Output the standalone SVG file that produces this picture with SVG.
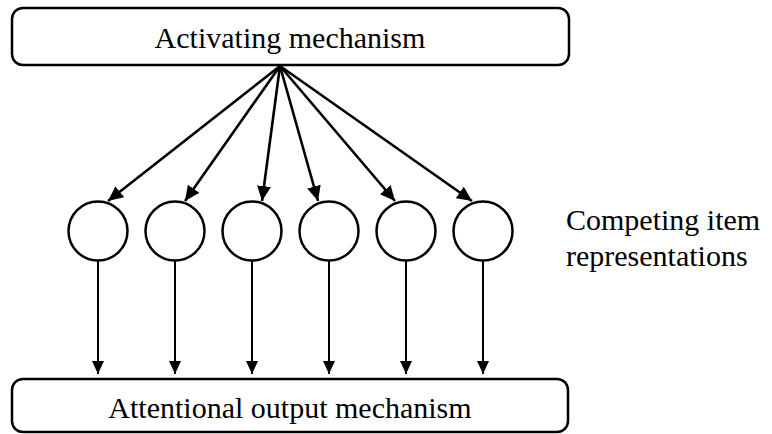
<svg xmlns="http://www.w3.org/2000/svg" width="772" height="434" viewBox="0 0 772 434">
<style>
.box{fill:#fff;stroke:#000;stroke-width:2.5}
.node{fill:#fff;stroke:#000;stroke-width:2.5}
.lbl{font-size:30px;fill:#000}
.edge{stroke:#000;stroke-width:2.6;fill:none}
.vedge{stroke:#000;stroke-width:2;fill:none}
</style>
<defs>
<marker id="ah" markerUnits="userSpaceOnUse" markerWidth="16" markerHeight="14" refX="15" refY="7" orient="auto">
<path d="M0,0 L15,7 L0,14 Z" fill="#000"/>
</marker>
<marker id="av" markerUnits="userSpaceOnUse" markerWidth="14" markerHeight="12" refX="13" refY="6" orient="auto">
<path d="M0,0 L13,6 L0,12 Z" fill="#000"/>
</marker>
</defs>
<rect width="772" height="434" fill="#fff"/>
<g font-family="'Liberation Serif', 'Times New Roman', Times, serif">
<g id="activating">
<rect class="box" x="12" y="8" width="557" height="57" rx="11"/>
<text class="lbl" x="290" y="48" text-anchor="middle">Activating mechanism</text>
</g>
<g id="output">
<rect class="box" x="12" y="379" width="556" height="53" rx="11"/>
<text class="lbl" x="290" y="418" text-anchor="middle">Attentional output mechanism</text>
</g>
<g id="item1"><circle class="node" cx="98" cy="231" r="29.5"/></g>
<g id="item2"><circle class="node" cx="175" cy="231" r="29.5"/></g>
<g id="item3"><circle class="node" cx="252" cy="231" r="29.5"/></g>
<g id="item4"><circle class="node" cx="329" cy="231" r="29.5"/></g>
<g id="item5"><circle class="node" cx="406" cy="231" r="29.5"/></g>
<g id="item6"><circle class="node" cx="483" cy="231" r="29.5"/></g>
<g id="caption">
<text class="lbl" x="566" y="230">Competing item</text>
<text class="lbl" x="566" y="266">representations</text>
</g>
</g>
<g id="connectors">
<line class="edge" x1="280" y1="66" x2="108" y2="201" marker-end="url(#ah)"/>
<line class="edge" x1="280" y1="66" x2="185" y2="201" marker-end="url(#ah)"/>
<line class="edge" x1="280" y1="66" x2="262" y2="201" marker-end="url(#ah)"/>
<line class="edge" x1="280" y1="66" x2="318" y2="201" marker-end="url(#ah)"/>
<line class="edge" x1="280" y1="66" x2="395" y2="201" marker-end="url(#ah)"/>
<line class="edge" x1="280" y1="66" x2="472" y2="201" marker-end="url(#ah)"/>
<line class="vedge" x1="98" y1="260" x2="98" y2="374" marker-end="url(#av)"/>
<line class="vedge" x1="175" y1="260" x2="175" y2="374" marker-end="url(#av)"/>
<line class="vedge" x1="252" y1="260" x2="252" y2="374" marker-end="url(#av)"/>
<line class="vedge" x1="329" y1="260" x2="329" y2="374" marker-end="url(#av)"/>
<line class="vedge" x1="406" y1="260" x2="406" y2="374" marker-end="url(#av)"/>
<line class="vedge" x1="483" y1="260" x2="483" y2="374" marker-end="url(#av)"/>
</g>
</svg>
